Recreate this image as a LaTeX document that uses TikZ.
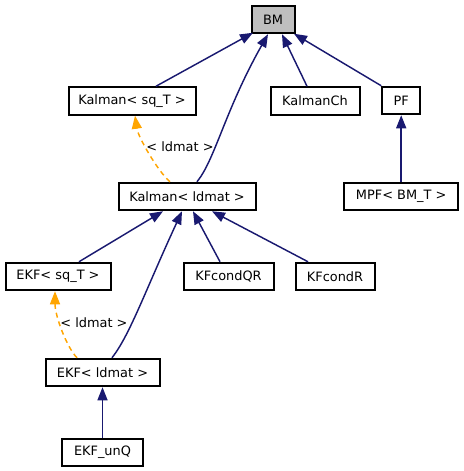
\documentclass[tikz,border=0pt]{standalone}
\usepackage{fontspec}
\setmainfont{DejaVu Sans}
\usetikzlibrary{arrows.meta,calc}
\definecolor{edgeblue}{HTML}{191970}
\definecolor{tmplorange}{HTML}{FFA500}
\definecolor{rootgray}{HTML}{BFBFBF}
\begin{document}
\begin{tikzpicture}[x=1pt,y=-1pt,
  classbox/.style={draw=black,line width=2pt,fill=white,inner sep=0pt,
    minimum height=27.5pt,font=\fontsize{12.9}{14}\selectfont},
  rootbox/.style={classbox,fill=rootgray},
  inherit/.style={draw=edgeblue,line width=1.45pt,
    -{Triangle[length=13pt,width=10pt]},edgeblue},
  tmpl/.style={draw=tmplorange,line width=1.45pt,dash pattern=on 5pt off 4pt,
    -{Triangle[length=13pt,width=10pt,sep=0pt]},tmplorange},
  tlabel/.style={font=\fontsize{12.9}{14}\selectfont,inner sep=0pt}]
\useasboundingbox[fill=white] (0,0) rectangle (463,471);

\node[rootbox,minimum width=43pt] (BM) at (273,19.5) {BM};
\node[classbox,minimum width=127pt] (KsqT) at (132,101) {Kalman< sq\_T >};
\node[classbox,minimum width=89pt] (KCh) at (315,101) {KalmanCh};
\node[classbox,minimum width=38pt] (PF) at (401.2,100.5) {PF};
\node[classbox,minimum width=137pt] (Kld) at (187,196.5) {Kalman< ldmat >};
\node[classbox,minimum width=114pt] (MPF) at (401.2,196.5) {MPF< BM\_T >};
\node[classbox,minimum width=105pt] (EsqT) at (58,276.5) {EKF< sq\_T >};
\node[classbox,minimum width=90pt] (KQR) at (228.5,276.5) {KFcondQR};
\node[classbox,minimum width=79pt] (KR) at (335,276.5) {KFcondR};
\node[classbox,minimum width=114pt] (Eld) at (102.5,372.5) {EKF< ldmat >};
\node[classbox,minimum width=81pt] (EunQ) at (102.5,452.5) {EKF\_unQ};

% inheritance to BM
\draw[inherit] ($(KsqT.north)+(24,0)$) -- ($(BM.south west)+(2.5,-1.5)$);
\draw[inherit] ($(Kld.north)+(10,0)$) .. controls +(18,-22) and +(-43,76) .. ($(BM.south)+(-5,0)$);
\draw[inherit] ($(KCh.north)+(-8,0)$) -- ($(BM.south)+(9,0)$);
\draw[inherit] (PF.north west) -- ($(BM.south east)+(-1.5,-0.5)$);
\draw[inherit] (MPF.north) -- (PF.south);

% template instance
\draw[tmpl] ($(Kld.north)+(-17,0)$) .. controls +(-12,-10) and +(3,21) .. ($(KsqT.south)+(3,0)$);
\node[tlabel] (lab1) at (180,147) {< ldmat >};

% inheritance to Kalman< ldmat >
\draw[inherit] ($(EsqT.north)+(21,0)$) -- ($(Kld.south)+(-24,0)$);
\draw[inherit] ($(Eld.north)+(9.5,0)$) .. controls +(18,-23) and +(-37,80) .. ($(Kld.south)+(-5,0)$);
\draw[inherit] ($(KQR.north)+(-8.5,0)$) -- ($(Kld.south)+(6,0)$);
\draw[inherit] ($(KR.north)+(-27,0)$) -- ($(Kld.south)+(25,0)$);

% template instance EKF
\draw[tmpl] ($(Eld.north)+(-25.5,0)$) .. controls +(-10,-10) and +(0,25) .. ($(EsqT.south)+(-3,0)$);
\node[tlabel] (lab2) at (94,323) {< ldmat >};

\draw[inherit] (EunQ.north) -- (EunQ.north |- Eld.south);
\end{tikzpicture}
\end{document}
